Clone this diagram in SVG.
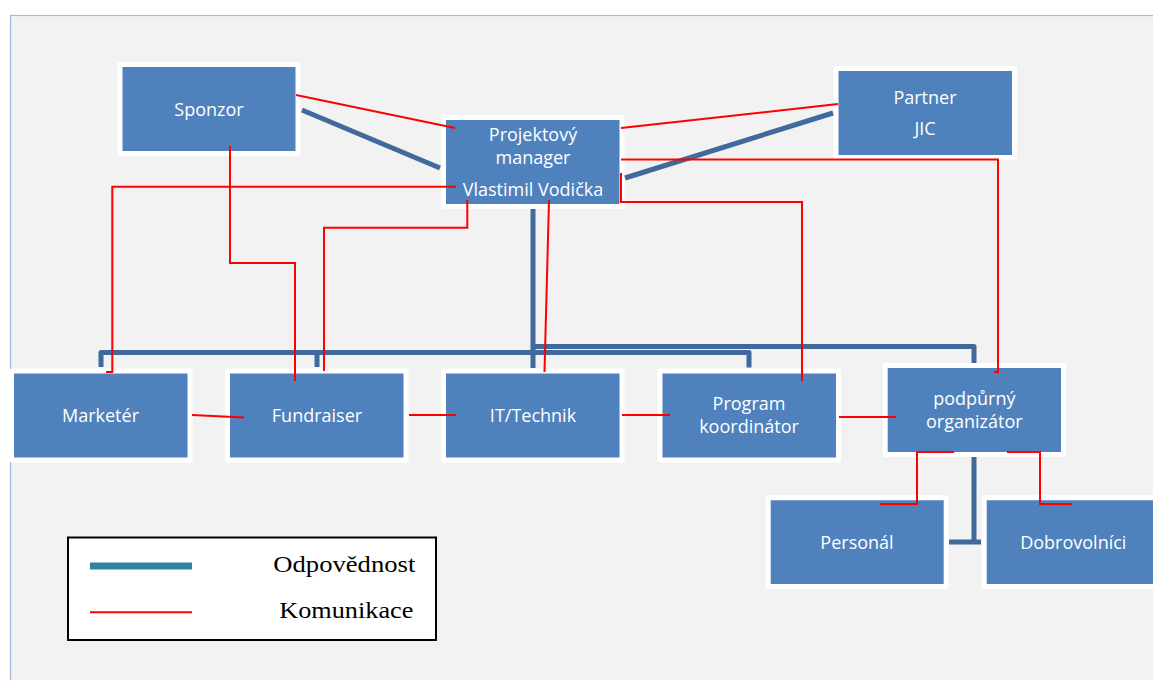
<svg xmlns="http://www.w3.org/2000/svg" width="1153" height="680" viewBox="0 0 1153 680">
<style>
.box{fill:#4f81bd;stroke:#ffffff;stroke-width:5;stroke-linejoin:round}
.lbl{font-family:"Open Sans","Liberation Sans",sans-serif;font-size:18px;fill:#ffffff;text-anchor:middle}
.resp{fill:none;stroke:#40699c;stroke-width:5;stroke-linejoin:round}
.comm{fill:none;stroke:#ff0000;stroke-width:2}
.leg{font-family:"Liberation Serif","Times New Roman",serif;font-size:24px;fill:#000000}
</style>
<rect x="0" y="0" width="1153" height="680" fill="#ffffff"/>
<rect x="10.5" y="15.5" width="1200" height="700" fill="#f2f2f2" stroke="#9fbadb" stroke-width="1.2"/>

<g id="sponzor"><rect class="box" x="120" y="64.5" width="178" height="89"/><text class="lbl" x="209" y="115.5">Sponzor</text></g>
<g id="projektovy-manager"><rect class="box" x="443.5" y="117.5" width="178.5" height="89"/><text class="lbl" x="533" y="141">Projektový</text><text class="lbl" x="533" y="164">manager</text><text class="lbl" x="533" y="196">Vlastimil Vodička</text></g>
<g id="partner"><rect class="box" x="836" y="68.5" width="178.5" height="89"/><text class="lbl" x="925" y="103.5">Partner</text><text class="lbl" x="925" y="135">JIC</text></g>
<g id="marketer"><rect class="box" x="11.5" y="371" width="178.5" height="89"/><text class="lbl" x="100.5" y="422">Marketér</text></g>
<g id="fundraiser"><rect class="box" x="227.5" y="371" width="178.5" height="89"/><text class="lbl" x="317" y="422">Fundraiser</text></g>
<g id="it-technik"><rect class="box" x="443.5" y="371" width="178.5" height="89"/><text class="lbl" x="533" y="422">IT/Technik</text></g>
<g id="program-koordinator"><rect class="box" x="660" y="371" width="178.5" height="89"/><text class="lbl" x="749" y="410">Program</text><text class="lbl" x="749" y="433">koordinátor</text></g>
<g id="podpurny-organizator"><rect class="box" x="885.2" y="365.5" width="178.3" height="89"/><text class="lbl" x="974.3" y="405">podpůrný</text><text class="lbl" x="974.3" y="427.5">organizátor</text></g>
<g id="personal"><rect class="box" x="768.2" y="497.8" width="178" height="88.7"/><text class="lbl" x="857" y="548.5">Personál</text></g>
<g id="dobrovolnici"><rect class="box" x="984.2" y="497.8" width="178" height="88.7"/><text class="lbl" x="1073.3" y="548.5">Dobrovolníci</text></g>

<g id="connectors">
<path class="resp" d="M302,110 L440,168"/>
<path class="resp" d="M833,113 L625,178"/>
<path class="resp" d="M533,209 V368"/>
<path class="resp" d="M101,367 V352.5 H749 V367.5"/>
<path class="resp" d="M317,352.5 V367"/>
<path class="resp" d="M533,346.5 H974 V363"/>
<path class="resp" d="M974,457 V542"/>
<path class="resp" d="M949,542 H981"/>

<path class="comm" d="M296,95 L455,128"/>
<path class="comm" d="M838,104 L621,128"/>
<path class="comm" d="M621,159.5 H998 V372 H994"/>
<path class="comm" d="M621,173 V202 H802 V381"/>
<path class="comm" d="M456,186.7 H112.3 V372 H106"/>
<path class="comm" d="M467.3,200 V227.7 H324 V371"/>
<path class="comm" d="M230,146 V263 H295 V381"/>
<path class="comm" d="M549,200 L544.5,372"/>
<path class="comm" d="M192,415 L244,417.5"/>
<path class="comm" d="M409,415 H456"/>
<path class="comm" d="M622,415 H670"/>
<path class="comm" d="M839,417 H896"/>
<path class="comm" d="M954,452 H917 V504 H880"/>
<path class="comm" d="M1007,452 H1040 V504 H1072"/>
</g>

<g id="legend">
<rect x="68" y="537.5" width="368" height="102.5" fill="#ffffff" stroke="#000000" stroke-width="2"/>
<line x1="90" y1="566" x2="192" y2="566" stroke="#31859c" stroke-width="7"/>
<line x1="90" y1="612.3" x2="192" y2="612.3" stroke="#ff0000" stroke-width="2"/>
<text class="leg" x="273.3" y="572.3" textLength="142" lengthAdjust="spacingAndGlyphs">Odpovědnost</text>
<text class="leg" x="279.3" y="617.7" textLength="134" lengthAdjust="spacingAndGlyphs">Komunikace</text>
</g>
</svg>
